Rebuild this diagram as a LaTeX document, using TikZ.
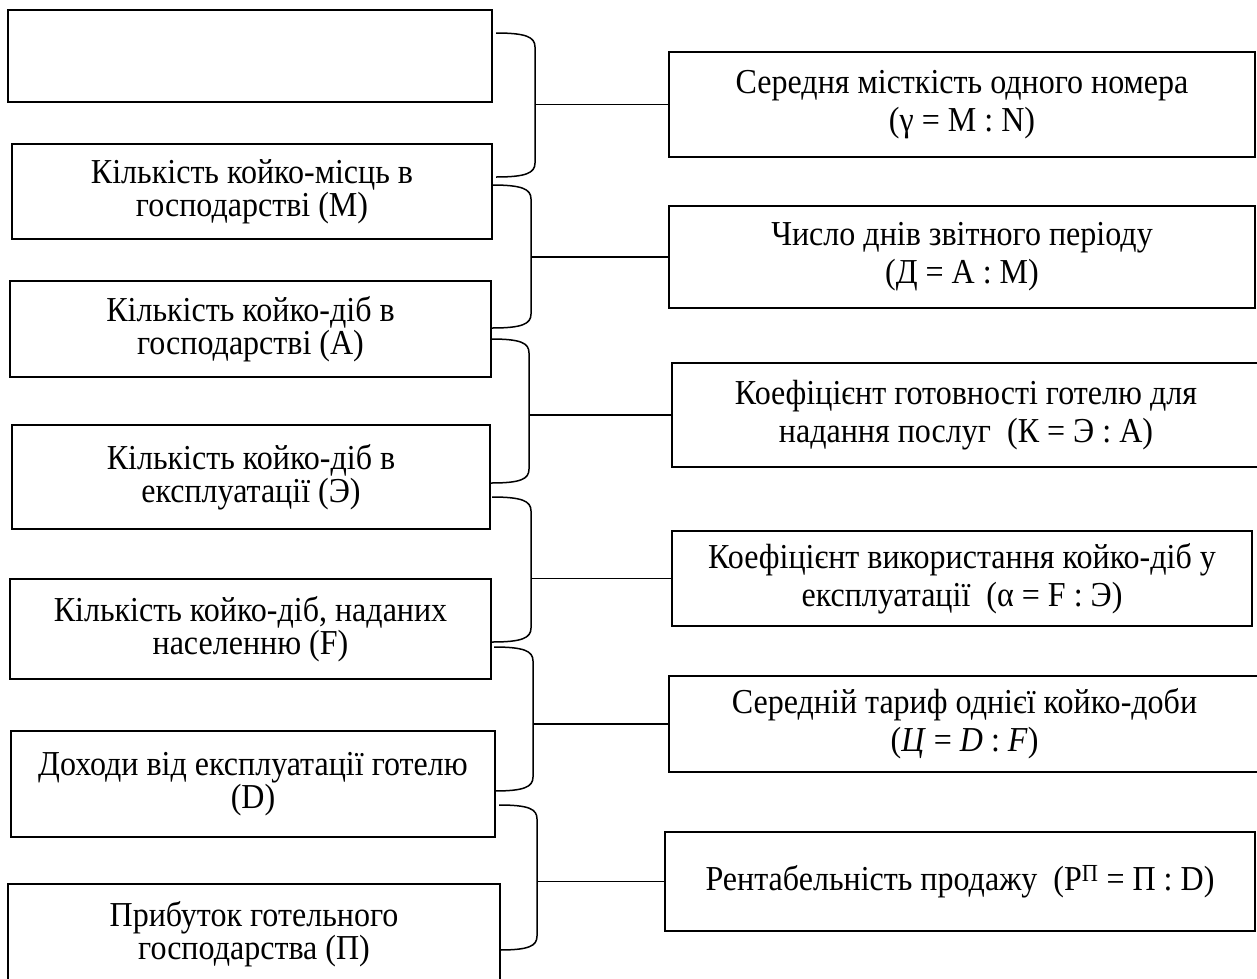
\documentclass[tikz,border=0pt]{standalone}
\usepackage{fontspec}
\setmainfont[FakeStretch=0.915]{Liberation Serif}
\tikzset{ %line width = 1.5pt,
  {left box/.style} ={draw, rectangle, line width=1.5pt, inner sep=0,
                align=center, font=\fontsize{35}{33}\selectfont},
  {right box/.style} ={left box, font=\fontsize{35}{38}\selectfont},
  {brace line/.style} ={draw, line width=1.5pt},
 }

\begin{document}
\begin{tikzpicture}[x=1pt,y=-1pt]
\useasboundingbox (0,0) rectangle (1257,978);
\clip (0,0) rectangle (1257,978);
% left column
\node[left box, minimum width=484, minimum height=92] (l1) at (250,56) {};
\node[left box, minimum width=480, minimum height=95] (l2) at (252,191.5)
  {Кількість койко-місць в\\господарстві (М)};
\node[left box, minimum width=481, minimum height=96] (l3) at (250.5,329)
  {Кількість койко-діб в\\господарстві (А)};
\node[left box, minimum width=478, minimum height=104] (l4) at (251,477)
  {Кількість койко-діб в\\експлуатації (Э)};
\node[left box, minimum width=481, minimum height=100] (l5) at (250.5,629)
  {Кількість койко-діб, наданих\\населенню (F)};
\node[left box, minimum width=484, minimum height=106] (l6) at (253,784)
  {Доходи від експлуатації готелю\\(D)};
\node[left box, minimum width=492, minimum height=100] (l7) at (254,934)
  {Прибуток готельного\\господарства (П)};
% right column
\node[right box, minimum width=586, minimum height=105] (r1) at (962,104.5)
  {Середня місткість одного номера\\(γ = M : N)};
\node[right box, minimum width=586, minimum height=102] (r2) at (962,257)
  {Число днів звітного періоду\\(Д = А : М)};
\node[right box, minimum width=588, minimum height=104] (r3) at (966,415)
  {Коефіцієнт готовності готелю для\\надання послуг\ \ (К = Э : А)};
\node[right box, minimum width=580, minimum height=95] (r4) at (962,578.5)
  {Коефіцієнт використання койко-діб у\\експлуатації\ \ (α = F : Э)};
\node[right box, minimum width=591, minimum height=96] (r5) at (964.5,724)
  {Середній тариф однієї койко-доби\\(\textit{Ц} = \textit{D} : \textit{F})};
\node[right box, minimum width=590, minimum height=99] (r6) at (960,881.5)
  {Рентабельність продажу\ \ (Р\textsuperscript{П} = П : D)};
% braces
\foreach \l/\t/\x/\b/\r in {496/33/535/177/r1, 492/185/531/328/r2,
    491/339/529/483/r3, 492/497/531/642/r4, 494/647/533/791/r5,
    499/805/537/950/r6}{
  \coordinate (v) at (\x,0);
  \draw[brace line] (\l,\t) .. controls +(30,0) and +(0,-10) .. (\x,\t+14)
    -- (\x,\b-14) .. controls +(0,10) and +(30,0) .. (\l,\b);
  \draw[brace line] (v |- \r.west) -- (\r.west);
}
\end{tikzpicture}
\end{document}
